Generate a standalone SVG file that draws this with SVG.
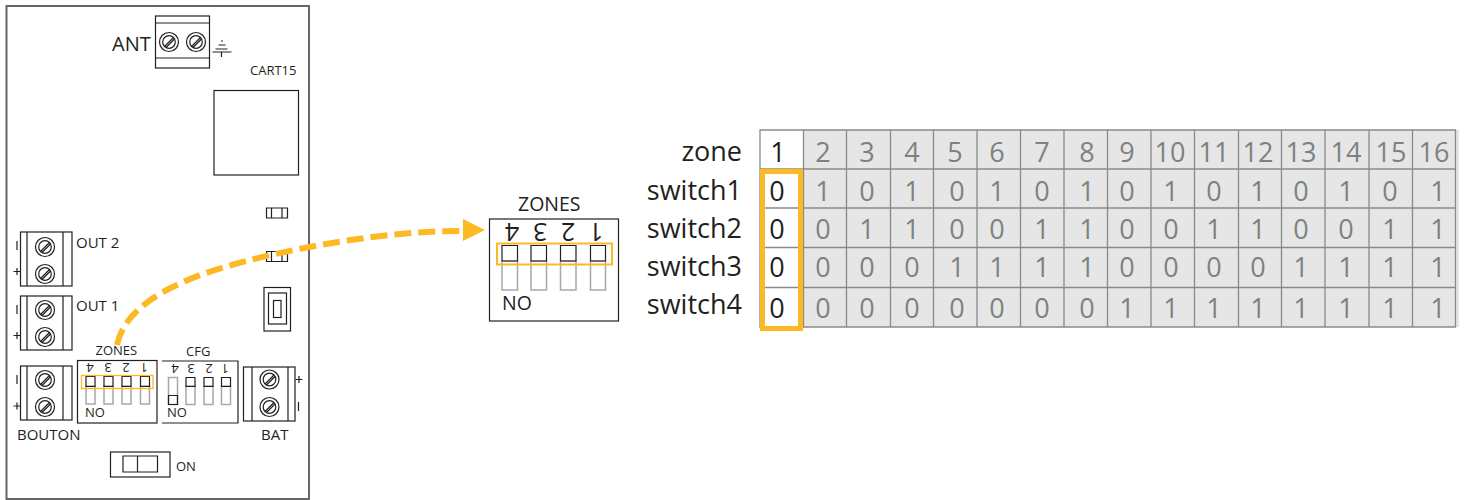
<svg xmlns="http://www.w3.org/2000/svg" xmlns:xlink="http://www.w3.org/1999/xlink" width="1467" height="500" viewBox="0 0 1467 500">
<style>
text{font-family:"Open Sans","Noto Sans","Liberation Sans",sans-serif;fill:#231f20}
.k{fill:none;stroke:#231f20;stroke-width:1.2}
.kw{fill:#fff;stroke:#231f20;stroke-width:1.2}
.g{fill:none;stroke:#a8a8a8;stroke-width:1.5}
.o{fill:none;stroke:#fdb924}
.s{font-size:13px}
.m{font-size:15px}
.t{font-size:27px;text-anchor:middle;fill:#7c8280}
.b{fill:#231f20}
.l{font-size:27px;text-anchor:end}
.grid{stroke:#8a8a8a;stroke-width:1.3;fill:none}
</style>
<defs>
<g id="screw"><circle r="9.5" class="k"/><circle r="6.3" class="k"/><path d="M-4.5 4.5L4.5-4.5M-3 5.5L5.5-3" class="k"/></g>
</defs>
<g id="board"><rect x="6.5" y="6" width="302.500" height="493" fill="#fff" stroke="#666" stroke-width="2"/>
<text x="250" y="75" class="s">CART15</text>
<rect x="214" y="90.500" width="84.500" height="84.500" class="k"/>
</g>
<g id="ant">
<text x="112" y="51" font-size="20">ANT</text>
<rect x="155.500" y="16" width="54" height="52" class="k"/>
<path d="M155.500 23H209.500M155.500 58H209.500" class="k"/>
<use xlink:href="#screw" x="169" y="42"/><use xlink:href="#screw" x="196" y="42"/>
<path d="M221 41h2M218.500 45h7M215.500 49h12M212.500 52h19M221.500 52v5" class="k" stroke-width="1"/>
</g>
<g id="fuse1"><path d="M266.500 208h21v10h-21zM271.500 208v10M282 208v10" class="k"/></g>
<g id="fuse2"><path d="M266.500 251.500h21v10h-21zM271.500 251.500v10M282 251.500v10" class="k"/></g>
<g id="jumper"><rect x="264" y="287.500" width="26.500" height="43.500" class="k"/><rect x="268.500" y="293" width="18" height="31" class="k"/><rect x="273.500" y="300.500" width="7.500" height="17" class="k"/></g>
<g id="out2">
<rect x="20.500" y="232" width="51.500" height="54" class="k"/><path d="M27 232v54M63 232v54" class="k"/>
<use xlink:href="#screw" x="45" y="247"/><use xlink:href="#screw" x="45" y="274"/>
<path d="M17 241v9M13.500 271.500h7M17 268v7" class="k"/>
<text x="76" y="248" class="m">OUT 2</text>
</g>
<g id="out1">
<rect x="20.500" y="296" width="51.500" height="54" class="k"/><path d="M27 296v54M63 296v54" class="k"/>
<use xlink:href="#screw" x="45" y="310"/><use xlink:href="#screw" x="45" y="337"/>
<path d="M17 305v9M13.500 335.500h7M17 332v7" class="k"/>
<text x="76" y="311" class="m">OUT 1</text>
</g>
<g id="bouton">
<rect x="20.500" y="366" width="51.500" height="54" class="k"/><path d="M27 366v54M63 366v54" class="k"/>
<use xlink:href="#screw" x="45" y="380"/><use xlink:href="#screw" x="45" y="407"/>
<path d="M17 375v9M13.500 406h7M17 402.500v7" class="k"/>
<text x="17" y="440" class="m">BOUTON</text>
</g>
<g id="zones-small">
<text x="95.500" y="355" class="s">ZONES</text>
<rect x="77.500" y="360.500" width="79.500" height="62.500" class="k"/>
<g class="s" text-anchor="middle">
<text transform="rotate(180 90 368)" x="90" y="373">4</text><text transform="rotate(180 108 368)" x="108" y="373">3</text><text transform="rotate(180 126 368)" x="126" y="373">2</text><text transform="rotate(180 144 368)" x="144" y="373">1</text>
</g>
<path d="M86 386h9v18h-9zM104 386h9v18h-9zM122 386h9v18h-9zM140.500 386h9v18h-9z" class="g"/>
<path d="M86 376.500h9v10h-9zM104 376.500h9v10h-9zM122 376.500h9v10h-9zM140.500 376.500h9v10h-9z" class="k"/>
<rect x="81.500" y="375.500" width="71.500" height="13" class="o" stroke-width="1.300"/>
<text x="85" y="417" class="s">NO</text>
</g>
<g id="cfg">
<text x="186" y="356" class="s">CFG</text>
<path d="M162 361H238V423H162" class="k"/>
<g class="s" text-anchor="middle">
<text transform="rotate(180 175 369)" x="175" y="374">4</text><text transform="rotate(180 191 369)" x="191" y="374">3</text><text transform="rotate(180 209 369)" x="209" y="374">2</text><text transform="rotate(180 225 369)" x="225" y="374">1</text>
</g>
<path d="M168.500 377.500h9v27h-9zM186 386h9v18.500h-9zM204 386h9v18.500h-9zM221.500 386h9v18.500h-9z" class="g"/>
<path d="M168.500 395.500h9v9h-9zM186 377.500h9v9h-9zM204 377.500h9v9h-9zM221.500 377.500h9v9h-9z" class="k"/>
<text x="167" y="417" class="s">NO</text>
</g>
<g id="bat">
<rect x="243.500" y="367" width="51.500" height="54" class="k"/><path d="M252 367v54M288 367v54" class="k"/>
<use xlink:href="#screw" x="269.500" y="379.500"/><use xlink:href="#screw" x="269.500" y="407"/>
<path d="M295.500 379.500h7M299 376v7M298.500 402v9" class="k"/>
<text x="261" y="440" class="m">BAT</text>
</g>
<g id="on-switch">
<rect x="110.500" y="452" width="59.500" height="25" class="k"/>
<path d="M123 456h34.500v16H123zM137.500 456v16" class="k"/>
<text x="176" y="471" class="s">ON</text>
</g>
<g id="zones-large">
<text x="518" y="211" font-size="19.500">ZONES</text>
<rect x="489.500" y="219" width="129" height="102" class="k"/>
<g font-size="25" text-anchor="middle">
<text transform="rotate(180 512 232)" x="512" y="241">4</text><text transform="rotate(180 540 232)" x="540" y="241">3</text><text transform="rotate(180 568 232)" x="568" y="241">2</text><text transform="rotate(180 596 232)" x="596" y="241">1</text>
</g>
<path d="M502 261h15.500v29H502zM531 261h15.500v29H531zM560.500 261h15.500v29h-15.500zM590.500 261h15v29h-15z" class="g"/>
<path d="M502 245.500h15.500v15.500H502zM531 245.500h15.500v15.500H531zM560.500 245.500h15.500v15.500h-15.500zM590.500 245.500h15v15.500h-15z" class="k"/>
<rect x="497" y="243.500" width="115" height="21" class="o" stroke-width="2"/>
<text x="502" y="310" font-size="19.500">NO</text>
</g>
<g id="connectors">
<path d="M117 345C126 300 190 275 250 260C310 245 390 231 462 231" class="o" stroke-width="6" stroke-dasharray="17 7"/>
<polygon points="463,219 485,230 463,241" fill="#fdb924"/>
</g>
<g id="table">
<rect x="760" y="130" width="699" height="197" fill="#e6e6e6"/>
<rect x="760" y="130" width="43.500" height="197" fill="#fff"/>
<path class="grid" d="M760 130H1455.500V327H760ZM760 169H1455.500M760 208H1455.500M760 247.500H1455.500M760 287.500H1455.500M803.500 130V327M846.500 130V327M890.500 130V327M933.500 130V327M977 130V327M1020.500 130V327M1064 130V327M1107.500 130V327M1151 130V327M1194.500 130V327M1238.500 130V327M1281.500 130V327M1325 130V327M1369 130V327M1412.500 130V327"/>
<g id="row-labels" class="l-g">
<text class="l" x="742" y="161">zone</text>
<text class="l" x="742" y="200">switch1</text>
<text class="l" x="742" y="238">switch2</text>
<text class="l" x="742" y="276">switch3</text>
<text class="l" x="742" y="314">switch4</text>
</g>
<g id="header">
<text class="t" x="778" y="162" style="fill:#231f20">1</text><text class="t" x="823" y="162">2</text><text class="t" x="867" y="162">3</text><text class="t" x="912" y="162">4</text><text class="t" x="955" y="162">5</text><text class="t" x="997" y="162">6</text><text class="t" x="1042" y="162">7</text><text class="t" x="1087" y="162">8</text><text class="t" x="1127" y="162">9</text><text class="t" x="1170" y="162">10</text><text class="t" x="1214" y="162">11</text><text class="t" x="1258" y="162">12</text><text class="t" x="1301" y="162">13</text><text class="t" x="1346" y="162">14</text><text class="t" x="1391" y="162">15</text><text class="t" x="1434" y="162">16</text>
</g>
<g id="row1">
<text class="t" x="777" y="201" style="fill:#231f20">0</text><text class="t" x="823" y="201">1</text><text class="t" x="867" y="201">0</text><text class="t" x="912" y="201">1</text><text class="t" x="957" y="201">0</text><text class="t" x="997" y="201">1</text><text class="t" x="1042" y="201">0</text><text class="t" x="1087" y="201">1</text><text class="t" x="1127" y="201">0</text><text class="t" x="1171" y="201">1</text><text class="t" x="1214" y="201">0</text><text class="t" x="1258" y="201">1</text><text class="t" x="1301" y="201">0</text><text class="t" x="1346" y="201">1</text><text class="t" x="1390" y="201">0</text><text class="t" x="1438" y="201">1</text>
</g>
<g id="row2">
<text class="t" x="777" y="239" style="fill:#231f20">0</text><text class="t" x="823" y="239">0</text><text class="t" x="867" y="239">1</text><text class="t" x="912" y="239">1</text><text class="t" x="957" y="239">0</text><text class="t" x="997" y="239">0</text><text class="t" x="1042" y="239">1</text><text class="t" x="1087" y="239">1</text><text class="t" x="1127" y="239">0</text><text class="t" x="1171" y="239">0</text><text class="t" x="1214" y="239">1</text><text class="t" x="1258" y="239">1</text><text class="t" x="1301" y="239">0</text><text class="t" x="1346" y="239">0</text><text class="t" x="1390" y="239">1</text><text class="t" x="1438" y="239">1</text>
</g>
<g id="row3">
<text class="t" x="777" y="277" style="fill:#231f20">0</text><text class="t" x="823" y="277">0</text><text class="t" x="867" y="277">0</text><text class="t" x="912" y="277">0</text><text class="t" x="957" y="277">1</text><text class="t" x="997" y="277">1</text><text class="t" x="1042" y="277">1</text><text class="t" x="1087" y="277">1</text><text class="t" x="1127" y="277">0</text><text class="t" x="1171" y="277">0</text><text class="t" x="1214" y="277">0</text><text class="t" x="1258" y="277">0</text><text class="t" x="1301" y="277">1</text><text class="t" x="1346" y="277">1</text><text class="t" x="1390" y="277">1</text><text class="t" x="1438" y="277">1</text>
</g>
<g id="row4">
<text class="t" x="777" y="318" style="fill:#231f20">0</text><text class="t" x="823" y="318">0</text><text class="t" x="867" y="318">0</text><text class="t" x="912" y="318">0</text><text class="t" x="957" y="318">0</text><text class="t" x="997" y="318">0</text><text class="t" x="1042" y="318">0</text><text class="t" x="1087" y="318">0</text><text class="t" x="1127" y="318">1</text><text class="t" x="1171" y="318">1</text><text class="t" x="1214" y="318">1</text><text class="t" x="1258" y="318">1</text><text class="t" x="1301" y="318">1</text><text class="t" x="1346" y="318">1</text><text class="t" x="1390" y="318">1</text><text class="t" x="1438" y="318">1</text>
</g>
<rect x="762.500" y="171.500" width="38" height="157" class="o" stroke-width="5"/>
</g>
</svg>
